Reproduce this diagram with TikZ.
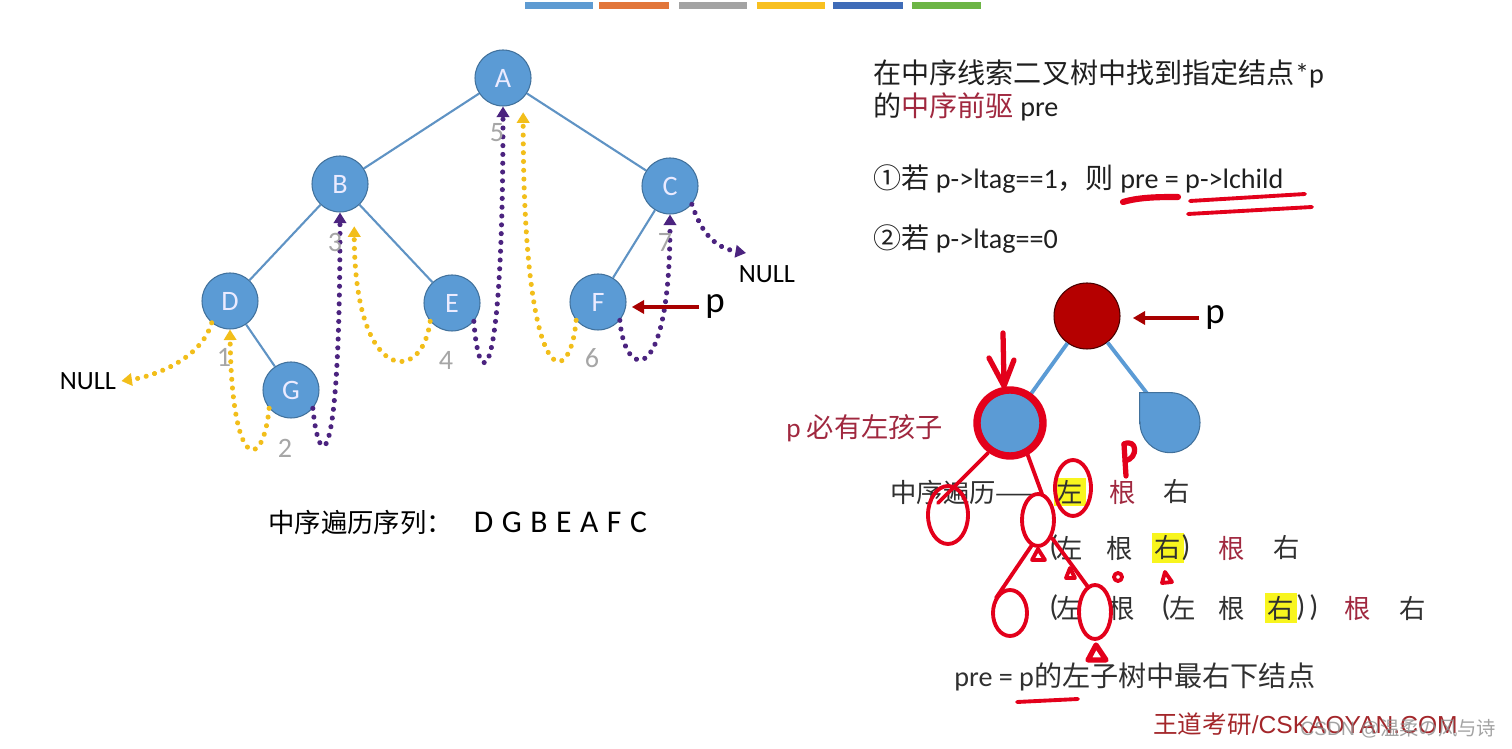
\documentclass[tikz,border=0pt]{standalone}
\usepackage{fontspec}
\setmainfont{Carlito}
\newfontfamily\zh{Noto Sans CJK SC}
\newfontfamily\arialfont{Liberation Sans}
\usetikzlibrary{arrows.meta, positioning, shapes.geometric}

\definecolor{barA}{HTML}{5E9BD2}
\definecolor{barB}{HTML}{E2763A}
\definecolor{barC}{HTML}{A3A3A3}
\definecolor{barD}{HTML}{F8C020}
\definecolor{barE}{HTML}{3F6CB8}
\definecolor{barF}{HTML}{6DB545}
\definecolor{nodeblue}{HTML}{5B9BD5}
\definecolor{nodeline}{HTML}{41719C}
\definecolor{edgeblue}{HTML}{5F93C4}
\definecolor{thrYellow}{HTML}{F2BE1A}
\definecolor{thrPurple}{HTML}{4B237F}
\definecolor{numgray}{HTML}{A6A6A6}
\definecolor{maroon}{HTML}{A0283F}
\definecolor{darkred}{HTML}{A80000}
\definecolor{rootred}{HTML}{B50000}
\definecolor{penred}{HTML}{E3001B}
\definecolor{hilite}{HTML}{F8F51E}
\definecolor{wdred}{HTML}{A3262A}
\definecolor{rowgray}{HTML}{303030}

\newcommand{\rowfont}{\zh\fontsize{15}{15}\selectfont}

\begin{document}
\begin{tikzpicture}[x=0.02cm, y=-0.02cm,
    tnode/.style={circle, draw=nodeline, fill=nodeblue, line width=0.6pt,
                  minimum size=1.12cm, inner sep=0pt, text=white!92!blue,
                  font=\fontsize{16}{16}\selectfont},
    tedge/.style={draw=edgeblue, line width=1.2pt},
    thread/.style={line width=2.9pt, line cap=round, dash pattern=on 0.01pt off 5pt,
                   -{Triangle[length=6pt, width=7pt]}},
    pthread/.style={thread, draw=thrYellow},
    sthread/.style={thread, draw=thrPurple},
    num/.style={text=numgray, font=\fontsize{16}{16}\selectfont},
    nulltxt/.style={font=\fontsize{15}{15}\selectfont, inner sep=0.1cm},
    parrow/.style={draw=darkred, line width=2.2pt, -{Triangle[length=7pt, width=7.5pt]}},
    ptxt/.style={font=\fontsize{21}{21}\selectfont},
    txt/.style={anchor=west, inner sep=0pt, font=\fontsize{16}{19}\selectfont, text=black!88},
    tok/.style={inner sep=0pt, font=\rowfont, text=rowgray},
    gen/.style={tok, text=maroon},
    hl/.style={tok, fill=hilite, inner sep=1.5pt},
    paren/.style={inner sep=0pt, font=\fontsize{17}{17}\selectfont, text=rowgray},
    pen/.style={draw=penred, line width=2.2pt, line cap=round, line join=round}
]
\useasboundingbox (0,0) rectangle (1512,749);

% Farbleiste oben
\foreach \c/\xa/\xb in {barA/525/593, barB/599/669, barC/679/747, barD/757/825, barE/833/903, barF/912/981}
  \fill[\c] (\xa,2) rectangle (\xb,9);

% Baum links
\node[tnode] (A) at (503,78)  {A};
\node[tnode] (B) at (340,184) {B};
\node[tnode] (C) at (670,186) {C};
\node[tnode] (D) at (230,301) {D};
\node[tnode] (E) at (452,303) {E};
\node[tnode] (F) at (598,302) {F};
\node[tnode] (G) at (291,390) {G};

\draw[tedge] (A) -- (B);
\draw[tedge] (A) -- (C);
\draw[tedge] (B) -- (D);
\draw[tedge] (B) -- (E);
\draw[tedge] (C) -- (F);
\draw[tedge] (D) -- (G);

\node[nulltxt] (null1) at (88,381)  {NULL};
\node[nulltxt] (null2) at (767,274) {NULL};
\coordinate (tipN2) at (746,253);

% Vorgaenger (gelb) und Nachfolger (lila)
\draw[pthread] (D.230) .. controls +(-10,35) and +(35,-5) .. (null1.east);
\draw[pthread] (G.220) .. controls +(-6,62) and +(2,145) .. (D.south);
\draw[sthread] (G.320) .. controls +(6,62) and +(0,272) .. (B.south);
\draw[pthread, shorten >=10pt] (E.220) .. controls +(-8,64) and +(0,175) .. (B.-60);
\draw[sthread] (E.320) .. controls +(5,71) and +(0,294) .. (A.south);
\draw[pthread, shorten >=8pt] (F.220) .. controls +(-6,70) and +(0,300) .. (A.-45);
\draw[sthread] (F.320) .. controls +(5,60) and +(0,175) .. (C.south);
\draw[sthread] (C.-40) .. controls +(10,30) and +(-30,-5) .. (tipN2);

\node[num] (n1) at (224,357) {1};
\node[num] (n2) at (285,448) {2};
\node[num] (n3) at (335,242) {3};
\node[num] (n4) at (446,360) {4};
\node[num] (n5) at (497,133) {5};
\node[num] (n6) at (592,358) {6};
\node[num] (n7) at (665,242) {7};

\node[ptxt] (p1) at (715,307) {p};
\draw[parrow, shorten >=3pt] (p1.west) -- (F.east |- p1.west);

\node[anchor=west, inner sep=0pt] (seq) at (268,522)
  {{\zh\fontsize{15}{15}\selectfont 中序遍历序列：}\hspace{12pt}{\fontsize{18}{18}\selectfont\spaceskip=0.27em D G B E A F C}};

% Text rechts
\node[txt] (h1) at (873,74)  {{\zh 在中序线索二叉树中找到指定结点}*p};
\node[txt] (h2) at (873,107) {{\zh 的}{\zh\color{maroon}中序前驱} pre};
\node[txt] (c1) at (873,179) {{\zh ①若} p->ltag==1{\zh ，则} pre = p->lchild};
\node[txt] (c2) at (873,239) {{\zh ②若} p->ltag==0};

% Baum rechts
\node[circle, draw=black!60!rootred, fill=rootred, line width=0.6pt,
      minimum size=1.32cm, inner sep=0pt] (rt) at (1087,316) {};
\node[tnode, minimum size=1.2cm] (lc) at (1010,423) {};
\node[circle, minimum size=1.2cm, inner sep=0pt] (rc) at (1170,423) {};
\draw[tedge, draw=nodeblue, line width=2.2pt] (rt) -- (lc);
\draw[tedge, draw=nodeblue, line width=2.2pt] (rt) -- (rc);
\filldraw[fill=nodeblue, draw=nodeline, line width=0.6pt]
  (rc.west) |- (rc.north) arc[start angle=90, end angle=-180, radius=0.6cm] -- cycle;
\node[tnode, minimum size=1.2cm] at (lc) {};

\node[ptxt] (p2) at (1215,318) {p};
\draw[parrow, shorten >=7pt] (p2.west) -- (rt.east |- p2.west);

\node[anchor=west, inner sep=0pt, text=maroon, font=\fontsize{15.5}{15.5}\selectfont]
  (must) at (786,428) {p {\zh 必有左孩子}};

% Zeilen
\node[tok, anchor=west] (r1a) at (890,492) {中序遍历——};
\node[hl]  (r1b) at (1070,492) {左};
\node[gen] (r1c) at (1123,492) {根};
\node[tok] (r1d) at (1177,492) {右};

\node[paren] (r2a) at (1054,548) {(};
\node[tok] (r2b) at (1070,548) {左};
\node[tok] (r2c) at (1120,548) {根};
\node[hl]  (r2d) at (1168,548) {右};
\node[paren] (r2e) at (1186,548) {)};
\node[gen] (r2f) at (1232,548) {根};
\node[tok] (r2g) at (1287,548) {右};

\node[paren] (r3a) at (1054,608) {(};
\node[tok] (r3b) at (1070,608) {左};
\node[tok] (r3c) at (1122,608) {根};
\node[paren] (r3d) at (1166,608) {(};
\node[tok] (r3e) at (1183,608) {左};
\node[tok] (r3f) at (1232,608) {根};
\node[hl]  (r3g) at (1281,608) {右};
\node[paren] (r3h) at (1301,608) {)};
\node[paren] (r3i) at (1314,608) {)};
\node[gen] (r3j) at (1358,608) {根};
\node[tok] (r3k) at (1413,608) {右};

\node[anchor=west, inner sep=0pt, text=rowgray, font=\fontsize{16}{16}\selectfont]
  (res) at (954,677) {pre = p{\zh 的左子树中最右下结点}};

% rote Handschrift
\draw[pen, line width=4.2pt] (lc) circle[radius=0.66cm];
\draw[pen, line width=3pt] (1003,333) -- (1004,384) (989,358) -- (1004,386) -- (1014,360);
\draw[pen] (988,453) -- (938,503);
\draw[pen] (948,515) ellipse[x radius=0.4cm, y radius=0.58cm];
\draw[pen] (1027,453) -- (1042,494);
\draw[pen] (1038,520) ellipse[x radius=0.32cm, y radius=0.52cm];
\draw[pen] (1073,488) ellipse[x radius=0.36cm, y radius=0.56cm];
\draw[pen, line width=3pt] (1124,444) -- (1126,476);
\draw[pen, line width=3pt] (1124,444) .. controls (1137,438) and (1139,458) .. (1125,461);
\draw[pen] (1032,560) -- (1038,549) -- (1045,560) -- cycle;
\draw[pen] (1032,545) -- (996,598);
\draw[pen] (1010,613) ellipse[x radius=0.34cm, y radius=0.46cm];
\draw[pen] (1052,538) -- (1088,587);
\draw[pen] (1095,612) ellipse[x radius=0.32cm, y radius=0.54cm];
\draw[pen] (1066,578) -- (1070,568) -- (1075,578) -- cycle;
\draw[pen] (1118,577) circle[radius=0.08cm];
\draw[pen] (1162,583) -- (1165,572) -- (1172,582) -- cycle;
\draw[pen, line width=3pt] (1088,660) -- (1096,645) -- (1106,660) -- cycle;
\draw[pen, line width=3.5pt] (1123,202) .. controls (1140,197) and (1160,197) .. (1178,197);
\draw[pen] (1190,201) -- (1305,194);
\draw[pen] (1188,214) -- (1312,207);
\draw[pen] (1017,702) -- (1078,699);

% Logo und Wasserzeichen
\node[anchor=west, inner sep=0pt, text=wdred, font=\fontsize{14}{14}\selectfont]
  (logo) at (1153,724) {{\zh 王道考研}{\arialfont /CSKAOYAN.COM}};
\node[anchor=west, inner sep=0pt, text=black!45, opacity=0.8, font=\fontsize{11}{11}\selectfont]
  (csdn) at (1300,729) {{\arialfont CSDN @}{\zh 温柔の风与诗}};
\end{tikzpicture}
\end{document}
